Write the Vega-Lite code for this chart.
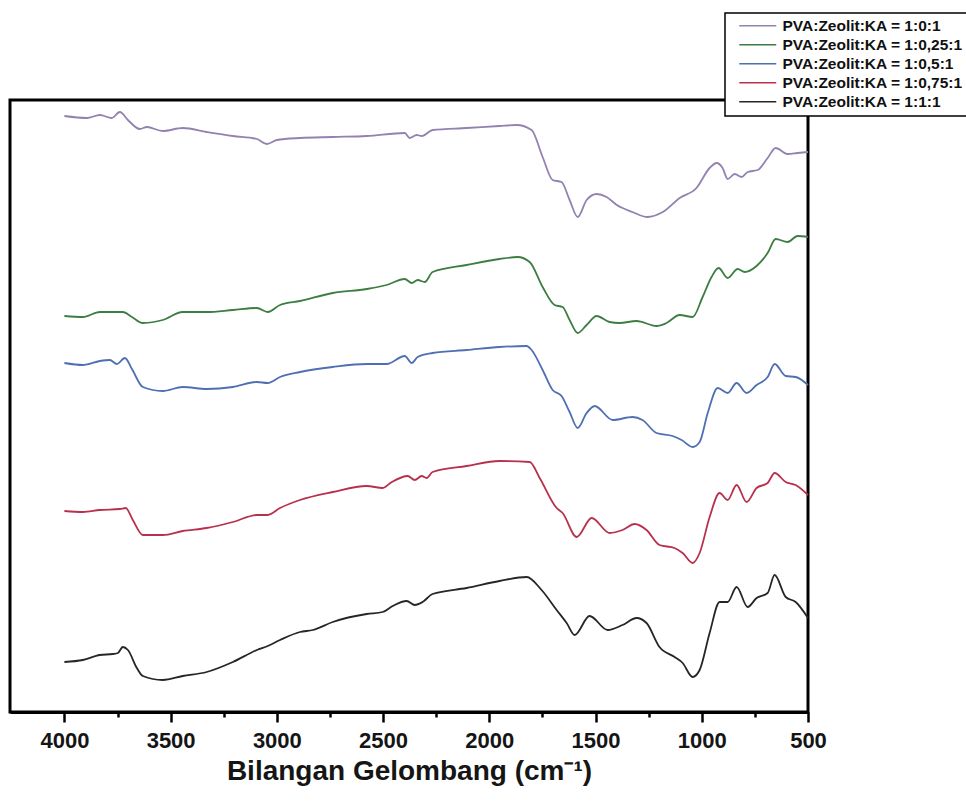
{
  "$schema": "https://vega.github.io/schema/vega-lite/v6.json",
  "width": 798,
  "height": 612,
  "autosize": {"type": "none"},
  "padding": {"left": 10, "top": 100, "right": 158, "bottom": 97},
  "background": "white",
  "config": {"view": {"stroke": "black", "strokeWidth": 3}},
  "datasets": {
    "a": [
      {"s":"PVA:Zeolit:KA = 1:0:1","wn":4000,"t":596},{"s":"PVA:Zeolit:KA = 1:0:1","wn":3894,"t":594},{"s":"PVA:Zeolit:KA = 1:0:1","wn":3833,"t":597},{"s":"PVA:Zeolit:KA = 1:0:1","wn":3777,"t":594},{"s":"PVA:Zeolit:KA = 1:0:1","wn":3739,"t":600},{"s":"PVA:Zeolit:KA = 1:0:1","wn":3701,"t":592},{"s":"PVA:Zeolit:KA = 1:0:1","wn":3645,"t":583},{"s":"PVA:Zeolit:KA = 1:0:1","wn":3612,"t":585},{"s":"PVA:Zeolit:KA = 1:0:1","wn":3537,"t":581},{"s":"PVA:Zeolit:KA = 1:0:1","wn":3443,"t":584},{"s":"PVA:Zeolit:KA = 1:0:1","wn":3330,"t":580},{"s":"PVA:Zeolit:KA = 1:0:1","wn":3207,"t":576},{"s":"PVA:Zeolit:KA = 1:0:1","wn":3094,"t":573},{"s":"PVA:Zeolit:KA = 1:0:1","wn":3047,"t":568},{"s":"PVA:Zeolit:KA = 1:0:1","wn":3000,"t":572},{"s":"PVA:Zeolit:KA = 1:0:1","wn":2891,"t":574},{"s":"PVA:Zeolit:KA = 1:0:1","wn":2737,"t":575},{"s":"PVA:Zeolit:KA = 1:0:1","wn":2577,"t":576},{"s":"PVA:Zeolit:KA = 1:0:1","wn":2398,"t":579},{"s":"PVA:Zeolit:KA = 1:0:1","wn":2375,"t":574},{"s":"PVA:Zeolit:KA = 1:0:1","wn":2342,"t":577},{"s":"PVA:Zeolit:KA = 1:0:1","wn":2318,"t":576},{"s":"PVA:Zeolit:KA = 1:0:1","wn":2267,"t":582},{"s":"PVA:Zeolit:KA = 1:0:1","wn":2107,"t":584},{"s":"PVA:Zeolit:KA = 1:0:1","wn":1952,"t":586},{"s":"PVA:Zeolit:KA = 1:0:1","wn":1871,"t":587},{"s":"PVA:Zeolit:KA = 1:0:1","wn":1801,"t":582},{"s":"PVA:Zeolit:KA = 1:0:1","wn":1749,"t":555},{"s":"PVA:Zeolit:KA = 1:0:1","wn":1702,"t":532},{"s":"PVA:Zeolit:KA = 1:0:1","wn":1660,"t":530},{"s":"PVA:Zeolit:KA = 1:0:1","wn":1622,"t":512},{"s":"PVA:Zeolit:KA = 1:0:1","wn":1584,"t":495},{"s":"PVA:Zeolit:KA = 1:0:1","wn":1542,"t":512},{"s":"PVA:Zeolit:KA = 1:0:1","wn":1495,"t":518},{"s":"PVA:Zeolit:KA = 1:0:1","wn":1448,"t":515},{"s":"PVA:Zeolit:KA = 1:0:1","wn":1400,"t":507},{"s":"PVA:Zeolit:KA = 1:0:1","wn":1326,"t":500},{"s":"PVA:Zeolit:KA = 1:0:1","wn":1255,"t":495},{"s":"PVA:Zeolit:KA = 1:0:1","wn":1184,"t":500},{"s":"PVA:Zeolit:KA = 1:0:1","wn":1104,"t":514},{"s":"PVA:Zeolit:KA = 1:0:1","wn":1025,"t":524},{"s":"PVA:Zeolit:KA = 1:0:1","wn":963,"t":544},{"s":"PVA:Zeolit:KA = 1:0:1","wn":930,"t":549},{"s":"PVA:Zeolit:KA = 1:0:1","wn":902,"t":544},{"s":"PVA:Zeolit:KA = 1:0:1","wn":878,"t":533},{"s":"PVA:Zeolit:KA = 1:0:1","wn":845,"t":538},{"s":"PVA:Zeolit:KA = 1:0:1","wn":812,"t":535},{"s":"PVA:Zeolit:KA = 1:0:1","wn":784,"t":540},{"s":"PVA:Zeolit:KA = 1:0:1","wn":737,"t":542},{"s":"PVA:Zeolit:KA = 1:0:1","wn":690,"t":554},{"s":"PVA:Zeolit:KA = 1:0:1","wn":652,"t":564},{"s":"PVA:Zeolit:KA = 1:0:1","wn":596,"t":558},{"s":"PVA:Zeolit:KA = 1:0:1","wn":549,"t":559},{"s":"PVA:Zeolit:KA = 1:0:1","wn":500,"t":560},

      {"s":"PVA:Zeolit:KA = 1:0,25:1","wn":4000,"t":396},{"s":"PVA:Zeolit:KA = 1:0,25:1","wn":3913,"t":395},{"s":"PVA:Zeolit:KA = 1:0,25:1","wn":3833,"t":400},{"s":"PVA:Zeolit:KA = 1:0,25:1","wn":3725,"t":400},{"s":"PVA:Zeolit:KA = 1:0,25:1","wn":3682,"t":395},{"s":"PVA:Zeolit:KA = 1:0,25:1","wn":3631,"t":389},{"s":"PVA:Zeolit:KA = 1:0,25:1","wn":3537,"t":392},{"s":"PVA:Zeolit:KA = 1:0,25:1","wn":3443,"t":400},{"s":"PVA:Zeolit:KA = 1:0,25:1","wn":3330,"t":400},{"s":"PVA:Zeolit:KA = 1:0,25:1","wn":3207,"t":402},{"s":"PVA:Zeolit:KA = 1:0,25:1","wn":3094,"t":404},{"s":"PVA:Zeolit:KA = 1:0,25:1","wn":3043,"t":400},{"s":"PVA:Zeolit:KA = 1:0,25:1","wn":2985,"t":407},{"s":"PVA:Zeolit:KA = 1:0,25:1","wn":2891,"t":411},{"s":"PVA:Zeolit:KA = 1:0,25:1","wn":2737,"t":419},{"s":"PVA:Zeolit:KA = 1:0,25:1","wn":2577,"t":423},{"s":"PVA:Zeolit:KA = 1:0,25:1","wn":2483,"t":427},{"s":"PVA:Zeolit:KA = 1:0,25:1","wn":2398,"t":433},{"s":"PVA:Zeolit:KA = 1:0,25:1","wn":2365,"t":429},{"s":"PVA:Zeolit:KA = 1:0,25:1","wn":2337,"t":432},{"s":"PVA:Zeolit:KA = 1:0,25:1","wn":2304,"t":430},{"s":"PVA:Zeolit:KA = 1:0,25:1","wn":2267,"t":440},{"s":"PVA:Zeolit:KA = 1:0,25:1","wn":2107,"t":447},{"s":"PVA:Zeolit:KA = 1:0,25:1","wn":1952,"t":453},{"s":"PVA:Zeolit:KA = 1:0,25:1","wn":1867,"t":455},{"s":"PVA:Zeolit:KA = 1:0,25:1","wn":1810,"t":450},{"s":"PVA:Zeolit:KA = 1:0,25:1","wn":1749,"t":425},{"s":"PVA:Zeolit:KA = 1:0,25:1","wn":1693,"t":407},{"s":"PVA:Zeolit:KA = 1:0,25:1","wn":1655,"t":405},{"s":"PVA:Zeolit:KA = 1:0,25:1","wn":1622,"t":392},{"s":"PVA:Zeolit:KA = 1:0,25:1","wn":1584,"t":379},{"s":"PVA:Zeolit:KA = 1:0,25:1","wn":1542,"t":387},{"s":"PVA:Zeolit:KA = 1:0,25:1","wn":1495,"t":396},{"s":"PVA:Zeolit:KA = 1:0,25:1","wn":1434,"t":390},{"s":"PVA:Zeolit:KA = 1:0,25:1","wn":1387,"t":389},{"s":"PVA:Zeolit:KA = 1:0,25:1","wn":1307,"t":391},{"s":"PVA:Zeolit:KA = 1:0,25:1","wn":1213,"t":386},{"s":"PVA:Zeolit:KA = 1:0,25:1","wn":1166,"t":389},{"s":"PVA:Zeolit:KA = 1:0,25:1","wn":1104,"t":397},{"s":"PVA:Zeolit:KA = 1:0,25:1","wn":1043,"t":395},{"s":"PVA:Zeolit:KA = 1:0,25:1","wn":996,"t":415},{"s":"PVA:Zeolit:KA = 1:0,25:1","wn":954,"t":435},{"s":"PVA:Zeolit:KA = 1:0,25:1","wn":921,"t":444},{"s":"PVA:Zeolit:KA = 1:0,25:1","wn":878,"t":434},{"s":"PVA:Zeolit:KA = 1:0,25:1","wn":831,"t":443},{"s":"PVA:Zeolit:KA = 1:0,25:1","wn":798,"t":440},{"s":"PVA:Zeolit:KA = 1:0,25:1","wn":742,"t":446},{"s":"PVA:Zeolit:KA = 1:0,25:1","wn":690,"t":459},{"s":"PVA:Zeolit:KA = 1:0,25:1","wn":652,"t":473},{"s":"PVA:Zeolit:KA = 1:0,25:1","wn":596,"t":470},{"s":"PVA:Zeolit:KA = 1:0,25:1","wn":549,"t":476},{"s":"PVA:Zeolit:KA = 1:0,25:1","wn":500,"t":475},

      {"s":"PVA:Zeolit:KA = 1:0,5:1","wn":4000,"t":349},{"s":"PVA:Zeolit:KA = 1:0,5:1","wn":3913,"t":347},{"s":"PVA:Zeolit:KA = 1:0,5:1","wn":3833,"t":351},{"s":"PVA:Zeolit:KA = 1:0,5:1","wn":3786,"t":352},{"s":"PVA:Zeolit:KA = 1:0,5:1","wn":3753,"t":348},{"s":"PVA:Zeolit:KA = 1:0,5:1","wn":3715,"t":354},{"s":"PVA:Zeolit:KA = 1:0,5:1","wn":3682,"t":343},{"s":"PVA:Zeolit:KA = 1:0,5:1","wn":3631,"t":325},{"s":"PVA:Zeolit:KA = 1:0,5:1","wn":3537,"t":321},{"s":"PVA:Zeolit:KA = 1:0,5:1","wn":3443,"t":325},{"s":"PVA:Zeolit:KA = 1:0,5:1","wn":3330,"t":323},{"s":"PVA:Zeolit:KA = 1:0,5:1","wn":3207,"t":325},{"s":"PVA:Zeolit:KA = 1:0,5:1","wn":3094,"t":330},{"s":"PVA:Zeolit:KA = 1:0,5:1","wn":3043,"t":329},{"s":"PVA:Zeolit:KA = 1:0,5:1","wn":2985,"t":335},{"s":"PVA:Zeolit:KA = 1:0,5:1","wn":2891,"t":340},{"s":"PVA:Zeolit:KA = 1:0,5:1","wn":2737,"t":345},{"s":"PVA:Zeolit:KA = 1:0,5:1","wn":2577,"t":348},{"s":"PVA:Zeolit:KA = 1:0,5:1","wn":2483,"t":348},{"s":"PVA:Zeolit:KA = 1:0,5:1","wn":2398,"t":356},{"s":"PVA:Zeolit:KA = 1:0,5:1","wn":2365,"t":349},{"s":"PVA:Zeolit:KA = 1:0,5:1","wn":2337,"t":355},{"s":"PVA:Zeolit:KA = 1:0,5:1","wn":2267,"t":359},{"s":"PVA:Zeolit:KA = 1:0,5:1","wn":2107,"t":362},{"s":"PVA:Zeolit:KA = 1:0,5:1","wn":1952,"t":365},{"s":"PVA:Zeolit:KA = 1:0,5:1","wn":1824,"t":366},{"s":"PVA:Zeolit:KA = 1:0,5:1","wn":1801,"t":362},{"s":"PVA:Zeolit:KA = 1:0,5:1","wn":1749,"t":342},{"s":"PVA:Zeolit:KA = 1:0,5:1","wn":1702,"t":322},{"s":"PVA:Zeolit:KA = 1:0,5:1","wn":1660,"t":316},{"s":"PVA:Zeolit:KA = 1:0,5:1","wn":1622,"t":300},{"s":"PVA:Zeolit:KA = 1:0,5:1","wn":1584,"t":284},{"s":"PVA:Zeolit:KA = 1:0,5:1","wn":1542,"t":299},{"s":"PVA:Zeolit:KA = 1:0,5:1","wn":1504,"t":306},{"s":"PVA:Zeolit:KA = 1:0,5:1","wn":1419,"t":292},{"s":"PVA:Zeolit:KA = 1:0,5:1","wn":1326,"t":295},{"s":"PVA:Zeolit:KA = 1:0,5:1","wn":1279,"t":292},{"s":"PVA:Zeolit:KA = 1:0,5:1","wn":1213,"t":279},{"s":"PVA:Zeolit:KA = 1:0,5:1","wn":1137,"t":276},{"s":"PVA:Zeolit:KA = 1:0,5:1","wn":1095,"t":272},{"s":"PVA:Zeolit:KA = 1:0,5:1","wn":1043,"t":265},{"s":"PVA:Zeolit:KA = 1:0,5:1","wn":1010,"t":270},{"s":"PVA:Zeolit:KA = 1:0,5:1","wn":972,"t":299},{"s":"PVA:Zeolit:KA = 1:0,5:1","wn":925,"t":324},{"s":"PVA:Zeolit:KA = 1:0,5:1","wn":878,"t":319},{"s":"PVA:Zeolit:KA = 1:0,5:1","wn":836,"t":329},{"s":"PVA:Zeolit:KA = 1:0,5:1","wn":789,"t":319},{"s":"PVA:Zeolit:KA = 1:0,5:1","wn":742,"t":327},{"s":"PVA:Zeolit:KA = 1:0,5:1","wn":690,"t":335},{"s":"PVA:Zeolit:KA = 1:0,5:1","wn":657,"t":348},{"s":"PVA:Zeolit:KA = 1:0,5:1","wn":605,"t":336},{"s":"PVA:Zeolit:KA = 1:0,5:1","wn":558,"t":335},{"s":"PVA:Zeolit:KA = 1:0,5:1","wn":500,"t":327},

      {"s":"PVA:Zeolit:KA = 1:0,75:1","wn":4000,"t":201},{"s":"PVA:Zeolit:KA = 1:0,75:1","wn":3913,"t":200},{"s":"PVA:Zeolit:KA = 1:0,75:1","wn":3833,"t":202},{"s":"PVA:Zeolit:KA = 1:0,75:1","wn":3739,"t":203},{"s":"PVA:Zeolit:KA = 1:0,75:1","wn":3711,"t":204},{"s":"PVA:Zeolit:KA = 1:0,75:1","wn":3678,"t":192},{"s":"PVA:Zeolit:KA = 1:0,75:1","wn":3631,"t":177},{"s":"PVA:Zeolit:KA = 1:0,75:1","wn":3537,"t":177},{"s":"PVA:Zeolit:KA = 1:0,75:1","wn":3443,"t":181},{"s":"PVA:Zeolit:KA = 1:0,75:1","wn":3330,"t":184},{"s":"PVA:Zeolit:KA = 1:0,75:1","wn":3207,"t":190},{"s":"PVA:Zeolit:KA = 1:0,75:1","wn":3094,"t":197},{"s":"PVA:Zeolit:KA = 1:0,75:1","wn":3043,"t":197},{"s":"PVA:Zeolit:KA = 1:0,75:1","wn":2985,"t":204},{"s":"PVA:Zeolit:KA = 1:0,75:1","wn":2891,"t":212},{"s":"PVA:Zeolit:KA = 1:0,75:1","wn":2737,"t":220},{"s":"PVA:Zeolit:KA = 1:0,75:1","wn":2577,"t":226},{"s":"PVA:Zeolit:KA = 1:0,75:1","wn":2502,"t":224},{"s":"PVA:Zeolit:KA = 1:0,75:1","wn":2459,"t":230},{"s":"PVA:Zeolit:KA = 1:0,75:1","wn":2384,"t":236},{"s":"PVA:Zeolit:KA = 1:0,75:1","wn":2351,"t":232},{"s":"PVA:Zeolit:KA = 1:0,75:1","wn":2318,"t":236},{"s":"PVA:Zeolit:KA = 1:0,75:1","wn":2295,"t":234},{"s":"PVA:Zeolit:KA = 1:0,75:1","wn":2267,"t":240},{"s":"PVA:Zeolit:KA = 1:0,75:1","wn":2107,"t":246},{"s":"PVA:Zeolit:KA = 1:0,75:1","wn":1952,"t":251},{"s":"PVA:Zeolit:KA = 1:0,75:1","wn":1810,"t":250},{"s":"PVA:Zeolit:KA = 1:0,75:1","wn":1763,"t":234},{"s":"PVA:Zeolit:KA = 1:0,75:1","wn":1683,"t":204},{"s":"PVA:Zeolit:KA = 1:0,75:1","wn":1655,"t":199},{"s":"PVA:Zeolit:KA = 1:0,75:1","wn":1589,"t":175},{"s":"PVA:Zeolit:KA = 1:0,75:1","wn":1518,"t":194},{"s":"PVA:Zeolit:KA = 1:0,75:1","wn":1434,"t":179},{"s":"PVA:Zeolit:KA = 1:0,75:1","wn":1373,"t":182},{"s":"PVA:Zeolit:KA = 1:0,75:1","wn":1316,"t":188},{"s":"PVA:Zeolit:KA = 1:0,75:1","wn":1260,"t":182},{"s":"PVA:Zeolit:KA = 1:0,75:1","wn":1199,"t":167},{"s":"PVA:Zeolit:KA = 1:0,75:1","wn":1128,"t":164},{"s":"PVA:Zeolit:KA = 1:0,75:1","wn":1090,"t":159},{"s":"PVA:Zeolit:KA = 1:0,75:1","wn":1043,"t":149},{"s":"PVA:Zeolit:KA = 1:0,75:1","wn":1010,"t":159},{"s":"PVA:Zeolit:KA = 1:0,75:1","wn":963,"t":195},{"s":"PVA:Zeolit:KA = 1:0,75:1","wn":916,"t":219},{"s":"PVA:Zeolit:KA = 1:0,75:1","wn":878,"t":212},{"s":"PVA:Zeolit:KA = 1:0,75:1","wn":836,"t":227},{"s":"PVA:Zeolit:KA = 1:0,75:1","wn":789,"t":210},{"s":"PVA:Zeolit:KA = 1:0,75:1","wn":742,"t":224},{"s":"PVA:Zeolit:KA = 1:0,75:1","wn":690,"t":229},{"s":"PVA:Zeolit:KA = 1:0,75:1","wn":657,"t":239},{"s":"PVA:Zeolit:KA = 1:0,75:1","wn":605,"t":230},{"s":"PVA:Zeolit:KA = 1:0,75:1","wn":558,"t":227},{"s":"PVA:Zeolit:KA = 1:0,75:1","wn":500,"t":217},

      {"s":"PVA:Zeolit:KA = 1:1:1","wn":4000,"t":50},{"s":"PVA:Zeolit:KA = 1:1:1","wn":3913,"t":52},{"s":"PVA:Zeolit:KA = 1:1:1","wn":3833,"t":57},{"s":"PVA:Zeolit:KA = 1:1:1","wn":3772,"t":58},{"s":"PVA:Zeolit:KA = 1:1:1","wn":3748,"t":59},{"s":"PVA:Zeolit:KA = 1:1:1","wn":3725,"t":65},{"s":"PVA:Zeolit:KA = 1:1:1","wn":3701,"t":62},{"s":"PVA:Zeolit:KA = 1:1:1","wn":3659,"t":44},{"s":"PVA:Zeolit:KA = 1:1:1","wn":3631,"t":36},{"s":"PVA:Zeolit:KA = 1:1:1","wn":3537,"t":32},{"s":"PVA:Zeolit:KA = 1:1:1","wn":3443,"t":36},{"s":"PVA:Zeolit:KA = 1:1:1","wn":3330,"t":40},{"s":"PVA:Zeolit:KA = 1:1:1","wn":3207,"t":50},{"s":"PVA:Zeolit:KA = 1:1:1","wn":3094,"t":62},{"s":"PVA:Zeolit:KA = 1:1:1","wn":3043,"t":66},{"s":"PVA:Zeolit:KA = 1:1:1","wn":2985,"t":72},{"s":"PVA:Zeolit:KA = 1:1:1","wn":2891,"t":80},{"s":"PVA:Zeolit:KA = 1:1:1","wn":2830,"t":82},{"s":"PVA:Zeolit:KA = 1:1:1","wn":2737,"t":90},{"s":"PVA:Zeolit:KA = 1:1:1","wn":2577,"t":98},{"s":"PVA:Zeolit:KA = 1:1:1","wn":2502,"t":100},{"s":"PVA:Zeolit:KA = 1:1:1","wn":2455,"t":106},{"s":"PVA:Zeolit:KA = 1:1:1","wn":2389,"t":111},{"s":"PVA:Zeolit:KA = 1:1:1","wn":2351,"t":107},{"s":"PVA:Zeolit:KA = 1:1:1","wn":2314,"t":110},{"s":"PVA:Zeolit:KA = 1:1:1","wn":2267,"t":118},{"s":"PVA:Zeolit:KA = 1:1:1","wn":2107,"t":124},{"s":"PVA:Zeolit:KA = 1:1:1","wn":1952,"t":131},{"s":"PVA:Zeolit:KA = 1:1:1","wn":1824,"t":135},{"s":"PVA:Zeolit:KA = 1:1:1","wn":1754,"t":122},{"s":"PVA:Zeolit:KA = 1:1:1","wn":1683,"t":102},{"s":"PVA:Zeolit:KA = 1:1:1","wn":1636,"t":89},{"s":"PVA:Zeolit:KA = 1:1:1","wn":1598,"t":77},{"s":"PVA:Zeolit:KA = 1:1:1","wn":1528,"t":96},{"s":"PVA:Zeolit:KA = 1:1:1","wn":1443,"t":82},{"s":"PVA:Zeolit:KA = 1:1:1","wn":1373,"t":87},{"s":"PVA:Zeolit:KA = 1:1:1","wn":1307,"t":94},{"s":"PVA:Zeolit:KA = 1:1:1","wn":1260,"t":89},{"s":"PVA:Zeolit:KA = 1:1:1","wn":1199,"t":65},{"s":"PVA:Zeolit:KA = 1:1:1","wn":1128,"t":55},{"s":"PVA:Zeolit:KA = 1:1:1","wn":1090,"t":49},{"s":"PVA:Zeolit:KA = 1:1:1","wn":1043,"t":35},{"s":"PVA:Zeolit:KA = 1:1:1","wn":1010,"t":42},{"s":"PVA:Zeolit:KA = 1:1:1","wn":963,"t":79},{"s":"PVA:Zeolit:KA = 1:1:1","wn":916,"t":110},{"s":"PVA:Zeolit:KA = 1:1:1","wn":878,"t":110},{"s":"PVA:Zeolit:KA = 1:1:1","wn":836,"t":125},{"s":"PVA:Zeolit:KA = 1:1:1","wn":784,"t":105},{"s":"PVA:Zeolit:KA = 1:1:1","wn":742,"t":114},{"s":"PVA:Zeolit:KA = 1:1:1","wn":690,"t":119},{"s":"PVA:Zeolit:KA = 1:1:1","wn":657,"t":137},{"s":"PVA:Zeolit:KA = 1:1:1","wn":605,"t":115},{"s":"PVA:Zeolit:KA = 1:1:1","wn":558,"t":110},{"s":"PVA:Zeolit:KA = 1:1:1","wn":500,"t":94}
    ]
  },
  "data": {"name": "a"},
  "mark": {"type": "line", "interpolate": "monotone", "strokeWidth": 1.8},
  "encoding": {
    "x": {
      "field": "wn",
      "type": "quantitative",
      "scale": {"domain": [500, 4256], "reverse": true, "nice": false, "zero": false},
      "axis": {
        "values": [4000, 3750, 3500, 3250, 3000, 2750, 2500, 2250, 2000, 1750, 1500, 1250, 1000, 750, 500],
        "format": "d",
        "labelExpr": "datum.value % 500 === 0 ? datum.label : ''",
        "tickSize": {"condition": {"test": "datum.value % 500 === 0", "value": 10}, "value": 5},
        "tickWidth": 2.5,
        "tickColor": "black",
        "domainColor": "black",
        "domainWidth": 3,
        "grid": false,
        "labelFont": "Liberation Sans",
        "labelFontSize": 22,
        "labelFontWeight": "bold",
        "labelColor": "#151515",
        "labelPadding": 8,
        "labelFlush": false,
        "labelOverlap": false,
        "title": "Bilangan Gelombang (cm⁻¹)",
        "titleFont": "Liberation Sans",
        "titleFontSize": 28,
        "titleFontWeight": "bold",
        "titleColor": "#151515",
        "titlePadding": 6
      }
    },
    "y": {
      "field": "t",
      "type": "quantitative",
      "scale": {"domain": [0, 612], "nice": false, "zero": false},
      "axis": null
    },
    "color": {
      "field": "s",
      "type": "nominal",
      "scale": {
        "domain": ["PVA:Zeolit:KA = 1:0:1", "PVA:Zeolit:KA = 1:0,25:1", "PVA:Zeolit:KA = 1:0,5:1", "PVA:Zeolit:KA = 1:0,75:1", "PVA:Zeolit:KA = 1:1:1"],
        "range": ["#9282b0", "#3d7d42", "#4f6fb3", "#b8304c", "#262626"]
      },
      "legend": {
        "orient": "none",
        "legendX": 715,
        "legendY": -87,
        "title": null,
        "symbolType": "M-3,0H3",
        "symbolSize": 152,
        "symbolStrokeWidth": 1.5,
        "labelFont": "Liberation Sans",
        "labelFontSize": 15.5,
        "labelFontWeight": "bold",
        "labelColor": "#111111",
        "labelLimit": 400,
        "labelOffset": 17,
        "symbolOffset": 20,
        "fillColor": "white",
        "strokeColor": "black",
        "padding": 5,
        "rowPadding": 2,
        "encode": {"legend": {"update": {"strokeWidth": {"value": 1.5}}}}
      }
    }
  }
}
